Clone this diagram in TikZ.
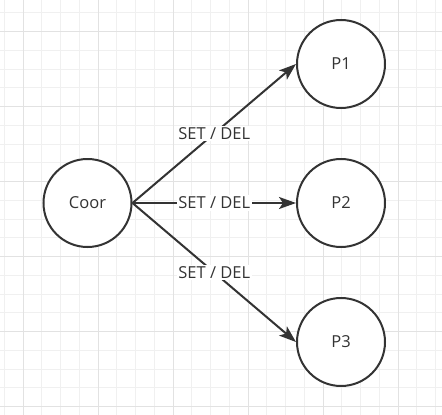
\documentclass[tikz,border=0pt]{standalone}
\usepackage{fontspec}
\setmainfont{Open Sans}
\usetikzlibrary{arrows.meta}
\definecolor{ink}{HTML}{333333}
\definecolor{gridminor}{HTML}{F0F0F0}
\definecolor{gridmajor}{HTML}{E2E2E2}
\tikzset{
  peer/.style={circle, draw=ink, line width=2pt, fill=white, minimum size=88pt, inner sep=0pt, font=\fontsize{16.5}{19}\selectfont, text=ink},
  link/.style={draw=ink, line width=2pt, -{Stealth[length=17pt,width=12pt,inset=4pt]}},
  lbl/.style={fill=white, inner sep=1.5pt, font=\fontsize{16.5}{19}\selectfont, text=ink}
}
\begin{document}
\begin{tikzpicture}[x=1pt,y=-1pt]
\useasboundingbox (0,0) rectangle (442,415);
\fill[white] (0,0) rectangle (442,415);
\foreach \k in {0,...,23} {
  \pgfmathsetmacro{\xx}{4.25+18.75*\k}
  \draw[gridminor, line width=1pt] (\xx,0) -- (\xx,415);
}
\foreach \k in {0,...,21} {
  \pgfmathsetmacro{\yy}{12.95+18.75*\k}
  \draw[gridminor, line width=1pt] (0,\yy) -- (442,\yy);
}
\foreach \xx in {23,98,173,248,323,398} \draw[gridmajor, line width=1pt] (\xx,0) -- (\xx,415);
\foreach \yy in {31.7,106.7,181.7,256.7,331.7,406.7} \draw[gridmajor, line width=1pt] (0,\yy) -- (442,\yy);

\node[peer] (coor) at (87.5,203) {Coor};
\node[peer] (p1) at (341,64) {P1};
\node[peer] (p2) at (341,203) {P2};
\node[peer] (p3) at (341,342) {P3};

\draw[link] (coor.east) -- node[lbl] {SET / DEL} (p1.west);
\draw[link] (coor.east) -- node[lbl] {SET / DEL} (p2.west);
\draw[link] (coor.east) -- node[lbl] {SET / DEL} (p3.west);
\end{tikzpicture}
\end{document}
